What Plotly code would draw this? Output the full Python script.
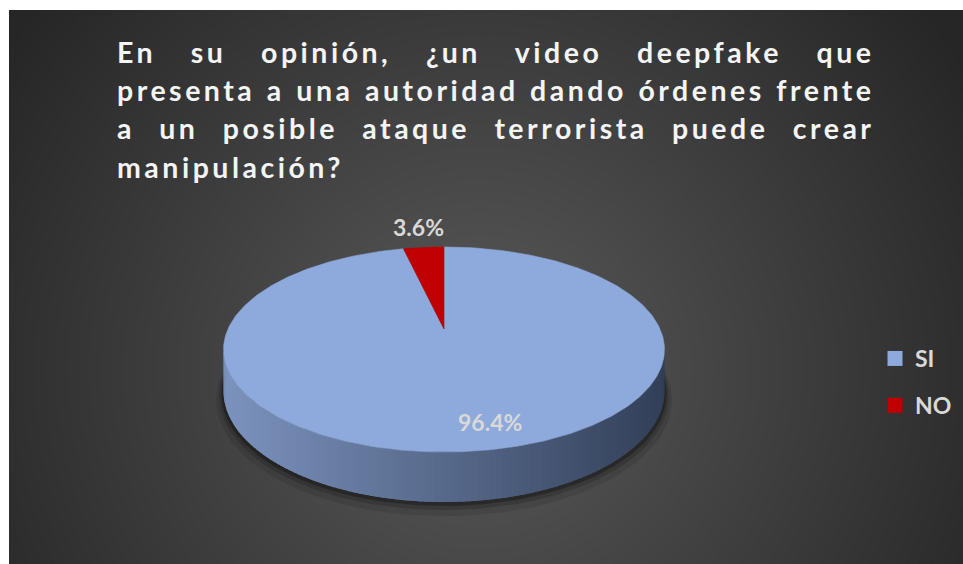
import json
import numpy as np
import plotly.graph_objects as go

# ---- data -------------------------------------------------------------
categories = ["SI", "NO"]
values = [96.4, 3.6]
slice_colors = ["#8EA9DB", "#C00000"]
side_left_rgb = [(124, 147, 190), (175, 0, 0)]
side_right_rgb = [(50, 63, 88), (95, 0, 0)]
label_texts = [f"{v:.1f}%" for v in values]
title_lines = [
    "En su opinión, ¿un video deepfake que",
    "presenta a una autoridad dando órdenes frente",
    "a un posible ataque terrorista puede crear",
    "manipulación?",
]

# ---- canvas (pixel coordinates) --------------------------------------
W, H = 963, 564
PAD_L, PAD_T = 9, 10          # white strip left of and above the dark panel

# tilted pie geometry
CX, CY = 444.0, 329.0
RX, RY = 216.0, 98.4
PERSP = 0.2
DEPTH = 40.0


def project(theta, r=1.0, drop=0.0):
    """Map an angle (clockwise from 12 o'clock) on the pie disc to the screen."""
    u = r * np.sin(theta)
    v = -r * np.cos(theta)
    s = 1.0 / (1.0 - PERSP * v)
    return CX + RX * u * s, CY + (RY * v + drop) * s


total = float(sum(values))
bounds = np.concatenate([[0.0], np.cumsum(values) / total]) * 2 * np.pi

fig = go.Figure()

# legend entries
for name, col in zip(categories, slice_colors):
    fig.add_trace(go.Scatter(
        x=[None], y=[None], mode="markers", name=name, legendgroup=name,
        marker=dict(symbol="square", size=15, color=col),
        hoverinfo="skip"))

# soft shadow under the disc
full = np.linspace(0, 2 * np.pi, 240)
for grow, alpha in [(7, 0.10), (4, 0.16), (2, 0.28)]:
    sx, sy = project(full, r=1.0 + grow / RX, drop=DEPTH + grow)
    fig.add_trace(go.Scatter(
        x=sx, y=sy, mode="lines", fill="toself", line=dict(width=0),
        fillcolor=f"rgba(0,0,0,{alpha})", showlegend=False, hoverinfo="skip"))

# cylinder wall, front half only; strips overlap their right neighbour
t_lo = np.arccos(-PERSP)
t_hi = 2 * np.pi - t_lo
edges = np.linspace(t_lo, t_hi, 120)
step = edges[1] - edges[0]
x_min, _ = project(t_hi)
x_max, _ = project(t_lo)
for a0, a1 in zip(edges[:-1], edges[1:]):
    mid = 0.5 * (a0 + a1)
    k = int(np.searchsorted(bounds, mid, side="right") - 1)
    k = min(max(k, 0), len(values) - 1)
    seg = np.linspace(a0, min(a1 + 0.8 * step, t_hi), 3)
    tx, ty = project(seg)
    bx, by = project(seg[::-1], drop=DEPTH)
    xm, _ = project(mid)
    f = float((xm - x_min) / (x_max - x_min))
    c0, c1 = side_left_rgb[k], side_right_rgb[k]
    rgb = tuple(int(round(c0[i] + (c1[i] - c0[i]) * f)) for i in range(3))
    col = "rgb(%d,%d,%d)" % rgb
    fig.add_trace(go.Scatter(
        x=np.concatenate([tx, bx]), y=np.concatenate([ty, by]),
        mode="lines", fill="toself", fillcolor=col,
        line=dict(width=0), showlegend=False, hoverinfo="skip"))

# top face slices
for k, (name, col) in enumerate(zip(categories, slice_colors)):
    arc = np.linspace(bounds[k], bounds[k + 1], max(4, int(values[k] * 4)))
    ax, ay = project(arc)
    fig.add_trace(go.Scatter(
        x=np.concatenate([[CX], ax, [CX]]), y=np.concatenate([[CY], ay, [CY]]),
        mode="lines", fill="toself", fillcolor=col,
        line=dict(width=0.6, color=col), name=name, showlegend=False,
        hoverinfo="skip"))

# percentage labels
label_radius = [0.8, 1.3]
label_nudge = [(23, 0), (0, -1)]
annotations = []
for k, txt in enumerate(label_texts):
    mid = 0.5 * (bounds[k] + bounds[k + 1])
    lx, ly = project(mid, r=label_radius[k])
    annotations.append(dict(
        x=float(lx + label_nudge[k][0]), y=float(ly + label_nudge[k][1]),
        xref="x", yref="y", text=txt, showarrow=False,
        xanchor="center", yanchor="middle",
        font=dict(family="Lato", size=23, color="#D9D9D9", weight="bold")))

# title, one annotation per line
TITLE_X, TITLE_W = 115, 754
title_baselines = [61, 99.3, 137.6, 176]
LETTER_SP = 3.5
for line, base in zip(title_lines, title_baselines):
    annotations.append(dict(
        x=TITLE_X, y=base - 9.5, xref="x", yref="y", text=line,
        showarrow=False, xanchor="left", yanchor="middle", align="left",
        font=dict(family="Lato", size=28.5, color="#F4F4F4", weight="bold")))

# radial background glow
shapes = []
GX, GY, PEAK, FLOOR, SLOPE = 480, 370, 90, 38, 0.09
for level in range(FLOOR + 1, PEAK + 1):
    r = (PEAK - level) / SLOPE + 2
    shapes.append(dict(
        type="circle", xref="x", yref="y", layer="below",
        x0=GX - r, x1=GX + r, y0=GY - r, y1=GY + r,
        fillcolor="rgb(%d,%d,%d)" % (level, level, level), line=dict(width=0)))

fig.update_layout(
    width=W, height=H,
    margin=dict(l=PAD_L, r=0, t=PAD_T, b=0, autoexpand=False),
    paper_bgcolor="#FFFFFF",
    plot_bgcolor="rgb(%d,%d,%d)" % (FLOOR, FLOOR, FLOOR),
    xaxis=dict(range=[PAD_L, W], visible=False, fixedrange=True),
    yaxis=dict(range=[H, PAD_T], visible=False, fixedrange=True),
    shapes=shapes,
    annotations=annotations,
    showlegend=True,
    legend=dict(
        x=(875 - PAD_L) / (W - PAD_L), xanchor="left",
        y=(H - 337) / (H - PAD_T), yanchor="top",
        font=dict(family="Lato", size=23, color="#D9D9D9", weight="bold"),
        tracegroupgap=14, bgcolor="rgba(0,0,0,0)", borderwidth=0,
        itemclick=False, itemdoubleclick=False),
    hovermode=False,
)

# letter spacing and justified word spacing for the title lines
specs = [{"text": line, "ls": LETTER_SP,
          "width": (TITLE_W + LETTER_SP) if i < len(title_lines) - 1 else 0}
         for i, line in enumerate(title_lines)]
post_js = """
var gd = document.getElementById('{plot_id}');
var specs = %s;
gd.querySelectorAll('text.annotation-text').forEach(function(t){
  var s = t.textContent;
  specs.forEach(function(sp){
    if (s === sp.text) {
      t.style.letterSpacing = sp.ls + 'px';
      if (sp.width > 0) {
        var n = (s.match(/ /g) || []).length;
        var w = t.getBBox().width;
        t.style.wordSpacing = ((sp.width - w) / n) + 'px';
      }
    }
  });
});
""" % json.dumps(specs, ensure_ascii=False)

fig.write_html("out.html", post_script=post_js, config={"displayModeBar": False})
